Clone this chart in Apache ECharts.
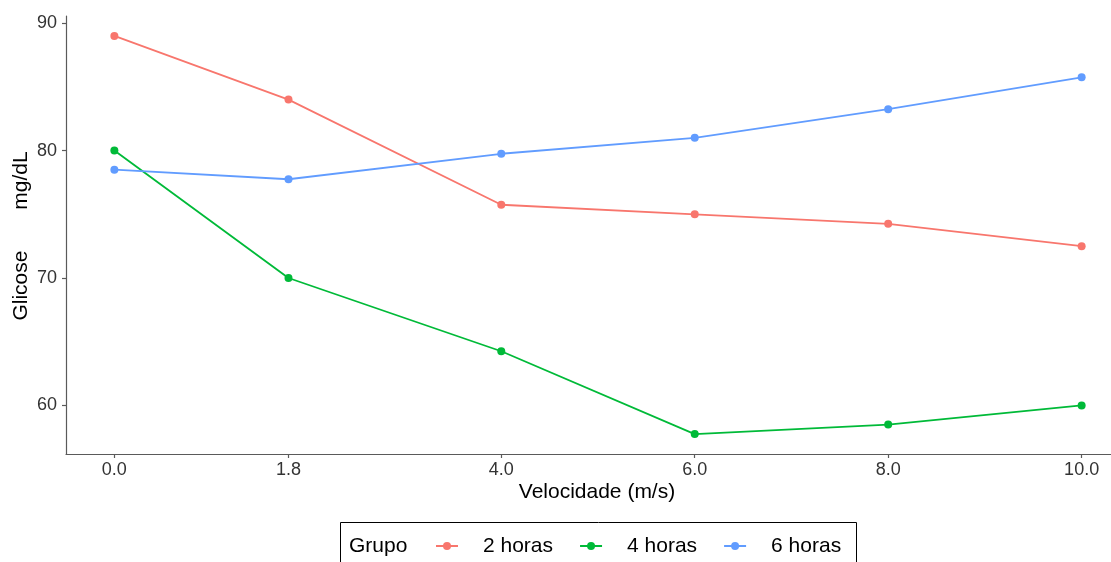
<!DOCTYPE html>
<html>
<head>
<meta charset="utf-8">
<script src="https://cdn.jsdelivr.net/npm/echarts@6/dist/echarts.min.js"></script>
<style>
  html, body { margin: 0; padding: 0; background: #fff; }
  #chart { width: 1111px; height: 562px; }
</style>
</head>
<body>
<div id="chart"></div>
<script>
// Velocidade (m/s) at which glucose was measured
const velocidades = [0, 1.8, 4.0, 6.0, 8.0, 10.0];

// Glicose (mg/dL) per group
const grupoNomes = ['2 horas', '4 horas', '6 horas'];
const glicose2h = [89, 84, 75.75, 75, 74.25, 72.5];
const glicose4h = [80, 70, 64.25, 57.75, 58.5, 60];
const glicose6h = [78.5, 77.75, 79.75, 81, 83.25, 85.75];

// Axis ticks
const xTicks = [0, 1.8, 4, 6, 8, 10];
const yTicks = [60, 70, 80, 90];

const cores = ['#F8766D', '#00BA38', '#619CFF'];
const fonte = '"Liberation Sans", Arial, Helvetica, sans-serif';

function pares(valores) {
  return velocidades.map((v, i) => [v, valores[i]]);
}

const serieDados = [glicose2h, glicose4h, glicose6h];

const chart = echarts.init(document.getElementById('chart'), null, { renderer: 'canvas' });

chart.setOption({
  animation: false,
  backgroundColor: '#ffffff',
  textStyle: { fontFamily: fonte },
  grid: {
    left: 66,
    top: 16,
    width: 1064,
    height: 438,
    containLabel: false,
    outerBoundsMode: 'none'
  },
  xAxis: {
    type: 'value',
    min: -0.5,
    max: 10.5,
    splitLine: { show: false },
    axisLine: { show: true, onZero: false, lineStyle: { color: '#5a5a5a', width: 1.2 } },
    axisTick: { show: true, length: 4, customValues: xTicks, lineStyle: { color: '#5a5a5a', width: 1.2 } },
    axisLabel: {
      customValues: xTicks,
      margin: 7,
      fontSize: 18,
      color: '#333333',
      fontFamily: fonte,
      formatter: v => Number(v).toFixed(1)
    }
  },
  yAxis: {
    type: 'value',
    min: 56.1875,
    max: 90.5625,
    splitLine: { show: false },
    axisLine: { show: true, onZero: false, lineStyle: { color: '#5a5a5a', width: 1.2 } },
    axisTick: { show: true, length: 4, customValues: yTicks, lineStyle: { color: '#5a5a5a', width: 1.2 } },
    axisLabel: {
      customValues: yTicks,
      margin: 9,
      fontSize: 18,
      color: '#333333',
      fontFamily: fonte
    }
  },
  legend: {
    data: grupoNomes,
    orient: 'horizontal',
    left: 435,
    top: 535,
    padding: 0,
    itemWidth: 22,
    itemHeight: 10,
    itemGap: 26,
    textStyle: {
      fontSize: 21,
      color: '#000',
      fontFamily: fonte,
      lineHeight: 22,
      padding: [0, 0, 0, 20]
    }
  },
  graphic: [
    {
      type: 'rect',
      shape: { x: 340.5, y: 522.5, width: 516, height: 60 },
      style: { fill: 'none', stroke: '#000', lineWidth: 1 },
      silent: true
    },
    {
      type: 'text',
      x: 349,
      y: 546,
      style: {
        text: 'Grupo',
        fontSize: 21,
        fontFamily: fonte,
        fill: '#000',
        textAlign: 'left',
        textVerticalAlign: 'middle'
      },
      silent: true
    },
    {
      type: 'text',
      x: 597,
      y: 492,
      style: {
        text: 'Velocidade (m/s)',
        fontSize: 21,
        fontFamily: fonte,
        fill: '#000',
        textAlign: 'center',
        textVerticalAlign: 'middle'
      },
      silent: true
    },
    {
      type: 'text',
      x: 21,
      y: 236,
      rotation: Math.PI / 2,
      style: {
        text: 'Glicose       mg/dL',
        fontSize: 21,
        fontFamily: fonte,
        fill: '#000',
        textAlign: 'center',
        textVerticalAlign: 'middle'
      },
      silent: true
    }
  ],
  series: grupoNomes.map((nome, i) => ({
    name: nome,
    type: 'line',
    data: pares(serieDados[i]),
    symbol: 'circle',
    symbolSize: 8,
    showSymbol: true,
    color: cores[i],
    lineStyle: { color: cores[i], width: 1.8 },
    itemStyle: { color: cores[i], borderWidth: 0 },
    emphasis: { disabled: true }
  }))
});
</script>
</body>
</html>
